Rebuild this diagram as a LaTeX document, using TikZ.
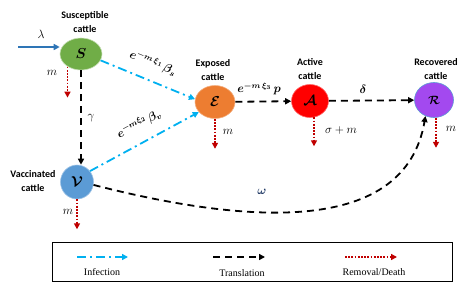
\documentclass[tikz,border=0pt]{standalone}
\usepackage{fontspec}
\setmainfont{Liberation Serif}
\newfontfamily\labfont{Carlito}
\usepackage{amsmath,bm}
\usetikzlibrary{arrows.meta,shapes.geometric}
\definecolor{cS}{HTML}{70AD47}
\definecolor{cE}{HTML}{ED7D31}
\definecolor{cA}{HTML}{FF0000}
\definecolor{cR}{HTML}{A349EF}
\definecolor{cV}{HTML}{5B9BD5}
\definecolor{cInf}{HTML}{00B0F0}
\definecolor{cLam}{HTML}{2E75B6}
\definecolor{cRem}{HTML}{C00000}
\definecolor{cOm}{HTML}{1F3864}
\begin{document}
\begin{tikzpicture}[x=1pt,y=-1pt,
  comp/.style={ellipse, inner sep=0pt, line width=0.6pt, font=\fontsize{15}{17}\selectfont},
  lab/.style={font=\labfont\bfseries\fontsize{10}{14}\selectfont, align=center, inner sep=0pt},
  rate/.style={font=\fontsize{12}{14}\selectfont, inner sep=0pt},
  brate/.style={font=\fontsize{11.5}{14}\selectfont, inner sep=0pt},
  leg/.style={font=\fontsize{10}{12}\selectfont, inner sep=0pt},
  tip/.style={-{Triangle[length=6pt,width=6pt]}},
  trans/.style={draw=black, line width=1.8pt, dash pattern=on 7pt off 5pt, tip},
  inf/.style={draw=cInf, line width=1.8pt, dash pattern=on 9pt off 4pt on 2pt off 4pt, tip},
  rem/.style={draw=cRem, line width=1.8pt, dash pattern=on 1.8pt off 1.4pt, tip},
  inflow/.style={draw=cLam, line width=1.6pt, tip}
]
\useasboundingbox (0,0) rectangle (473,290);

% compartments
\node[comp, fill=cS, draw=cS!40!white, minimum width=42pt, minimum height=32pt] (S) at (81,54) {$\bm{S}$};
\node[comp, fill=cE, draw=cE!60!white, minimum width=40pt, minimum height=33pt] (E) at (215,102) {$\boldsymbol{\mathcal{E}}$};
\node[comp, fill=cA, draw=cA!60!white, minimum width=37pt, minimum height=33pt] (A) at (310,101) {$\boldsymbol{\mathcal{A}}$};
\node[comp, fill=cR, draw=cV, minimum width=39pt, minimum height=35pt, font=\fontsize{12}{14}\selectfont] (R) at (434,100) {$\boldsymbol{\mathcal{R}}$};
\node[comp, fill=cV, draw=cV!60!white, minimum width=33pt, minimum height=34pt] (V) at (77,182) {$\boldsymbol{\mathcal{V}}$};

% titles
\node[lab] (tS) at (85,22) {Susceptible\\cattle};
\node[lab] (tE) at (213,70) {Exposed\\cattle};
\node[lab] (tA) at (310,69) {Active\\cattle};
\node[lab] (tR) at (436,69) {Recovered\\cattle};
\node[lab] (tV) at (33,181) {Vaccinated\\cattle};

% inflow
\coordinate (in0) at (18,47);
\draw[inflow] (in0) -- (S.west |- in0);
\node[rate] (lam) at (41,34) {$\lambda$};

% removal arrows
\draw[rem] (S.223) -- ++(0,31);
\node[rate] (mS) at (52,73) {$m$};
\draw[rem] (E.south) -- ++(0,30);
\node[rate] (mE) at (228,132) {$m$};
\draw[rem] (A.south -| 314,0) ++(0,-0.5) -- ++(0,29);
\node[rate] (mA) at (341,130) {$\sigma+m$};
\draw[rem] (R.south -| 436,0) -- ++(0,30);
\node[rate] (mR) at (451,129) {$m$};
\draw[rem] (V.south) -- ++(0,30);
\node[rate] (mV) at (68,212) {$m$};

% translations
\draw[trans] (S.south) -- (V.north -| S.south);
\node[rate] (gam) at (91,118) {$\gamma$};
\draw[trans] (E) -- (A);
\node[brate] (lp) at (259,89) {$\boldsymbol{e^{-m\,\xi_3}\,p}$};
\draw[trans] (A) -- (R);
\node[rate] (ldel) at (363,89) {$\boldsymbol{\delta}$};
\draw[trans] (V.-10) .. controls (250,225) and (405,235) .. (R.242);
\node[rate, text=cOm] (lom) at (262,192) {$\boldsymbol{\omega}$};

% infections
\draw[inf] (S.-18) -- (E.172);
\node[brate, rotate=-22] (lbs) at (153,63) {$\boldsymbol{e^{-m\,\xi_1}\,\beta_s}$};
\draw[inf] (V.40) -- (E.212);
\node[brate, rotate=28] (lbv) at (139,124) {$\boldsymbol{e^{-m\xi_2}\,\beta_v}$};

% legend
\node[draw=black, line width=0.7pt, minimum width=400pt, minimum height=39pt, inner sep=0pt] (legbox) at (252,261.5) {};
\coordinate (l1a) at (77,257); \coordinate (l1b) at (128,257);
\coordinate (l2a) at (213,257); \coordinate (l2b) at (265,257);
\coordinate (l3a) at (345,257); \coordinate (l3b) at (397,257);
\draw[inf] (l1a) -- (l1b);
\draw[trans] (l2a) -- (l2b);
\draw[rem] (l3a) -- (l3b);
\node[leg] (t1) at (102,272) {Infection};
\node[leg] (t2) at (242,273) {Translation};
\node[leg] (t3) at (374,272) {Removal/Death};
\end{tikzpicture}
\end{document}
